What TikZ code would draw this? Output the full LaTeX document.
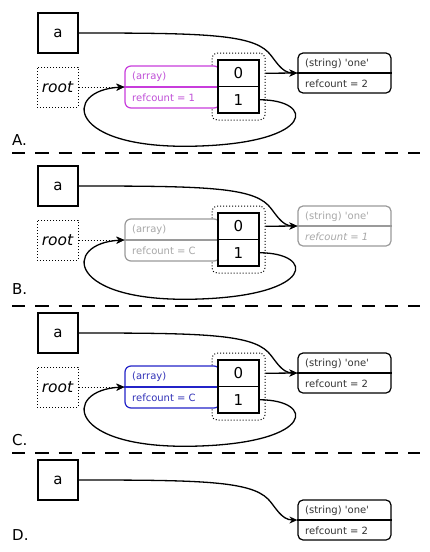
\documentclass[tikz,border=0pt]{standalone}
\usepackage{fontspec}
\setmainfont{DejaVu Sans}
\usetikzlibrary{arrows.meta}
\definecolor{magb}{HTML}{C83CDC}
\definecolor{magt}{HTML}{C050D8}
\definecolor{blub}{HTML}{2323C8}
\definecolor{blut}{HTML}{3333B8}
\definecolor{grb}{HTML}{9A9A9A}
\definecolor{grt}{HTML}{A8A8A8}
\tikzset{
  abox/.style={draw, line width=1.3pt, minimum width=40pt, minimum height=40pt, inner sep=0pt, font=\fontsize{15}{15}\selectfont},
  rootbox/.style={draw, dotted, line width=1pt, minimum width=41pt, minimum height=40pt, inner sep=0pt, font=\fontsize{15.5}{15.5}\selectfont\itshape},
  grp/.style={draw, dotted, line width=1pt, rounded corners=5pt, minimum width=53pt, minimum height=67pt, inner sep=0pt},
  arrbox/.style={draw, line width=1.2pt, fill=white, rounded corners=6pt, minimum width=95pt, minimum height=42pt, inner sep=0pt},
  cell/.style={draw, line width=1.3pt, fill=white, minimum width=41pt, minimum height=26.5pt, inner sep=0pt, font=\fontsize{15}{15}\selectfont},
  strbox/.style={draw, line width=1.2pt, fill=white, rounded corners=5pt, minimum width=93pt, minimum height=40pt, inner sep=0pt},
  small/.style={font=\fontsize{10}{10}\selectfont, anchor=west, inner sep=0pt},
  lbl/.style={font=\fontsize{15}{15}\selectfont, anchor=base west, inner sep=0pt},
  conn/.style={line width=1.3pt, -{Stealth[length=8pt,width=7pt]}},
  dotconn/.style={line width=1pt, dotted, -{Stealth[length=8pt,width=7pt]}},
  sep/.style={line width=2.4pt, dash pattern=on 13.3pt off 10pt}
}
\newcommand\strtxt{(string) \textquotesingle one\textquotesingle}
\newcommand\mypanel[8]{%
 % #1 suffix, #2 offset, #3 array border, #4 array text, #5 array refcount,
 % #6 string border, #7 string text style, #8 string refcount text
 \begin{scope}[yshift=-#2pt]
  \node[abox] (a#1) at (58,33) {a};
  \node[rootbox] (r#1) at (57.5,87) {root};
  \node[grp] (g#1) at (238.5,86.5) {};
  \node[arrbox, draw=#3] (arr#1) at (172.5,87) {};
  \draw[#3, line width=1.2pt] (arr#1.west) -- (arr#1.east);
  \node[small, text=#4] (at#1) at (132,77) {(array)};
  \node[small, text=#4] (ar#1) at (132,98) {refcount = #5};
  \node[cell] (c0#1) at (238.5,73.25) {0};
  \node[cell] (c1#1) at (238.5,99.75) {1};
  \node[strbox, draw=#6] (s#1) at (344.5,73) {};
  \draw[#6, line width=1.2pt] (s#1.west) -- (s#1.east);
  \node[small, #7] (st#1) at (305,63.5) {\strtxt};
  \node[small, #7] (sr#1) at (305,83.5) {#8};
  \draw[conn] (a#1.east) .. controls (200,33) and (250,34) .. (268,52)
     .. controls (275,59) and (281,73) .. (s#1.west);
  \draw[conn] (g#1.east |- c0#1.center) -- (s#1.west);
  \draw[dotconn] (r#1.east) -- (arr#1.west);
  \draw[conn] (c1#1.east) .. controls (315,100) and (315,142) .. (200,146)
     .. controls (65,151) and (62,90) .. (arr#1.west);
 \end{scope}}
\begin{document}
\begin{tikzpicture}[x=1pt,y=-1pt]
\useasboundingbox (0,0) rectangle (429,552);
\mypanel{A}{0}{magb}{magt}{1}{black}{text=black!80}{refcount = 2}
\mypanel{B}{153}{grb}{grt}{C}{grb}{text=grt}{\textit{refcount = 1}}
\mypanel{C}{300}{blub}{blut}{C}{black}{text=black!80}{refcount = 2}
% panel D
\begin{scope}[yshift=-447pt]
  \node[abox] (aD) at (58,33) {a};
  \node[strbox] (sD) at (344.5,73) {};
  \draw[line width=1.2pt] (sD.west) -- (sD.east);
  \node[small, text=black!80] (stD) at (305,63.5) {\strtxt};
  \node[small, text=black!80] (srD) at (305,83.5) {refcount = 2};
  \draw[conn] (aD.east) .. controls (200,33) and (250,34) .. (268,52)
     .. controls (275,59) and (281,73) .. (sD.west);
\end{scope}
\node[lbl] (lA) at (12,145) {A.};
\node[lbl] (lB) at (12,294) {B.};
\node[lbl] (lC) at (12,445) {C.};
\node[lbl] (lD) at (12,540) {D.};
\draw[sep] (12,153) -- (420,153);
\draw[sep] (12,306) -- (420,306);
\draw[sep] (12,453) -- (420,453);
\end{tikzpicture}
\end{document}
